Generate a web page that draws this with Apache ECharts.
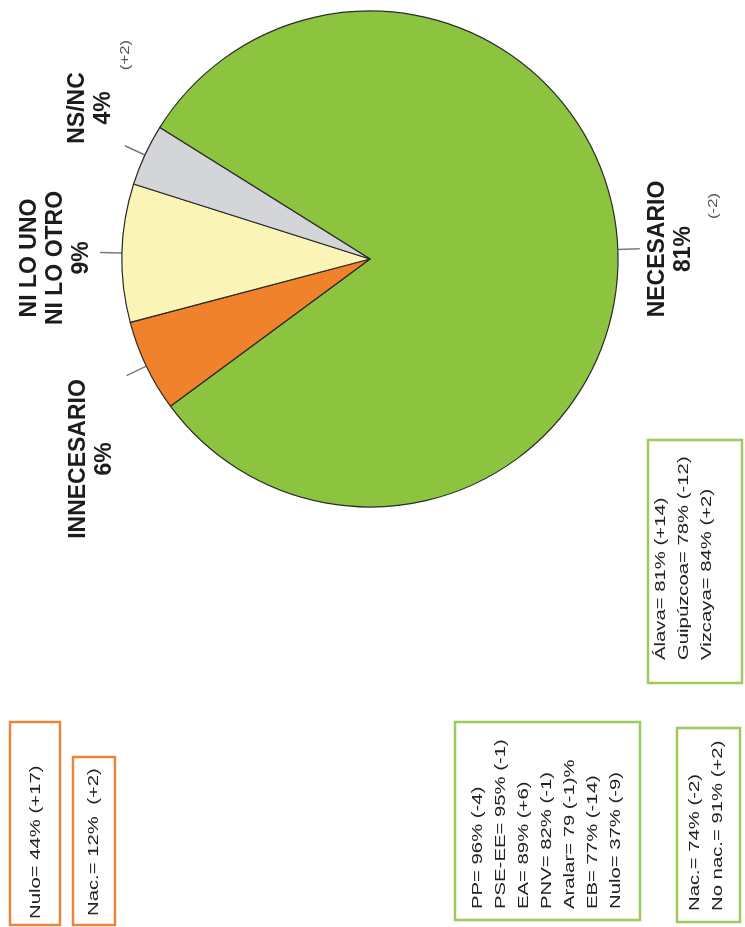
<!DOCTYPE html>
<html><head><meta charset="utf-8">
<script src="https://cdn.jsdelivr.net/npm/echarts@6/dist/echarts.min.js"></script>
<style>html,body{margin:0;padding:0;background:#fff}#c{width:745px;height:927px}</style>
</head><body><div id="c"></div>
<script>
// ---- data ----
const categories = ['NECESARIO', 'INNECESARIO', 'NI LO UNO\nNI LO OTRO', 'NS/NC'];
const values = [81, 6, 9, 4];
const changes = ['(-2)', '', '', '(+2)'];
const boxNulo = ['Nulo= 44% (+17)'];
const boxNac = ['Nac.= 12%  (+2)'];
const boxPartidos = ['PP= 96% (-4)', 'PSE-EE= 95% (-1)', 'EA= 89% (+6)', 'PNV= 82% (-1)', 'Aralar= 79 (-1)%', 'EB= 77% (-14)', 'Nulo= 37% (-9)'];
const boxTerritorios = ['Álava= 81% (+14)', 'Guipúzcoa= 78% (-12)', 'Vizcaya= 84% (+2)'];
const boxNacionalistas = ['Nac.= 74% (-2)', 'No nac.= 91% (+2)'];

// ---- layout / style ----
const FONT = "'Liberation Sans', Arial, sans-serif";
const ROT = Math.PI / 2;
const sliceColors = ['#8cc440', '#f0822c', '#faf5b6', '#d3d5d8'];
const labelPos = [{x: 671, y: 249}, {x: 92, y: 459}, {x: 56, y: 258}, {x: 91, y: 108}];
const changePos = [{x: 714, y: 206}, null, null, {x: 126, y: 55}];
const orange = '#e9863e', green = '#9ccb5c';
const boxes = [
  {lines: boxNulo, rect: [10, 722, 50, 203], color: orange, tx: 36, ty: 919},
  {lines: boxNac, rect: [73, 757, 42, 168], color: orange, tx: 94, ty: 916},
  {lines: boxPartidos, rect: [455, 722, 185, 198], color: green, tx: 547, ty: 909},
  {lines: boxTerritorios, rect: [648, 440, 94, 243], color: green, tx: 684, ty: 660},
  {lines: boxNacionalistas, rect: [677, 728, 63, 194], color: green, tx: 707, ty: 911}
];

const graphics = [];
boxes.forEach(b => {
  graphics.push({type: 'rect', shape: {x: b.rect[0], y: b.rect[1], width: b.rect[2], height: b.rect[3]},
    style: {fill: '#fff', stroke: b.color, lineWidth: 2.5}, z: 1});
  graphics.push({type: 'text', x: b.tx, y: b.ty, rotation: ROT, scaleX: 1.45, z: 2,
    style: {text: b.lines.join('\n'), fontFamily: FONT, fontSize: 14, lineHeight: 23,
      align: 'left', verticalAlign: 'middle', fill: '#222'}});
});
categories.forEach((c, i) => {
  const p = labelPos[i];
  graphics.push({type: 'text', x: p.x, y: p.y, rotation: ROT, z: 2,
    style: {text: c + '\n' + values[i] + '%', fontFamily: FONT, fontSize: 23, fontWeight: 'bold',
      lineHeight: 26, align: 'center', verticalAlign: 'middle', fill: '#1c1c1c'}});
  if (changes[i] && changePos[i]) {
    graphics.push({type: 'text', x: changePos[i].x, y: changePos[i].y, rotation: ROT, scaleX: 1.4, z: 2,
      style: {text: changes[i], fontFamily: FONT, fontSize: 12, align: 'center', verticalAlign: 'middle', fill: '#555'}});
  }
});

const chart = echarts.init(document.getElementById('c'));
chart.setOption({
  animation: false,
  backgroundColor: '#fff',
  graphic: graphics,
  series: [{
    type: 'pie',
    center: [370, 259],
    radius: 248,
    startAngle: 148,
    clockwise: true,
    avoidLabelOverlap: false,
    silent: true,
    data: categories.map((n, i) => ({name: n, value: values[i], itemStyle: {color: sliceColors[i]}})),
    itemStyle: {borderColor: '#2a2a2a', borderWidth: 1.2},
    label: {show: true, position: 'outside', formatter: ' ', color: 'rgba(0,0,0,0)'},
    labelLine: {show: true, length: 22, length2: 0, lineStyle: {color: '#7a7a7a', width: 1.5}},
    emphasis: {disabled: true}
  }]
});
</script>
</body></html>
